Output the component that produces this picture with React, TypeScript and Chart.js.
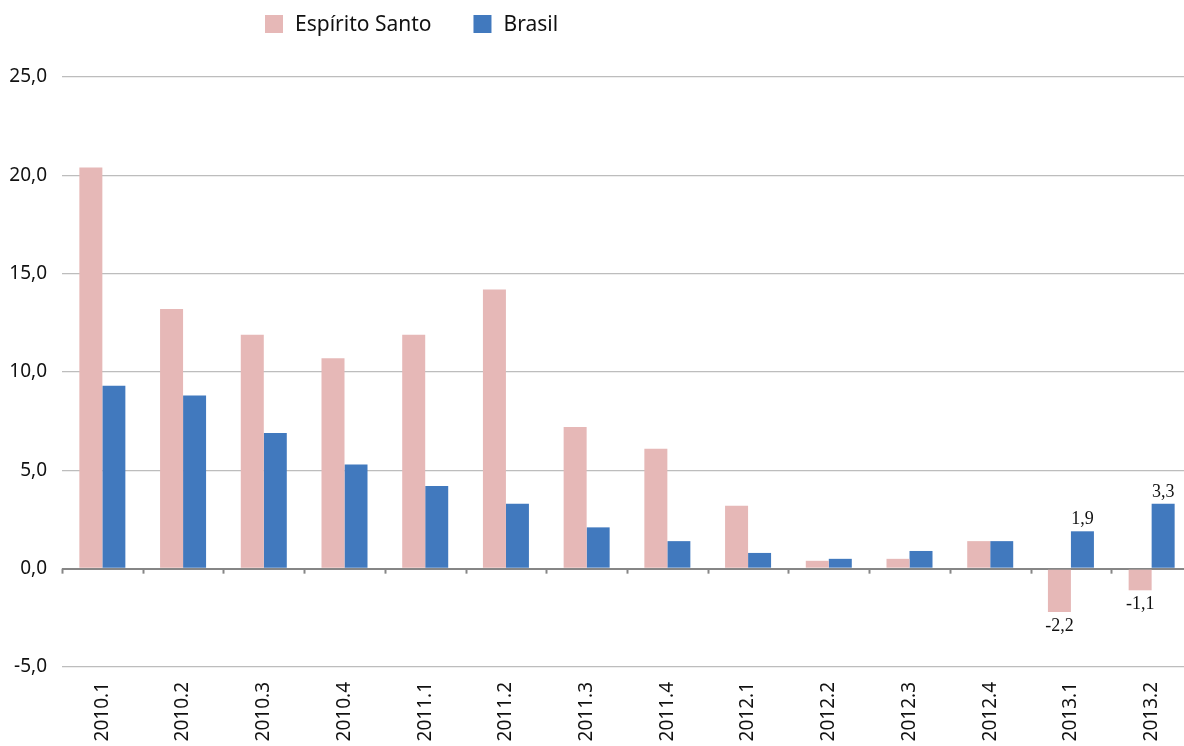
import { useEffect, useRef } from 'react';
import { Chart, registerables } from 'chart.js';

Chart.register(...registerables);

const categories = [
  '2010.1', '2010.2', '2010.3', '2010.4',
  '2011.1', '2011.2', '2011.3', '2011.4',
  '2012.1', '2012.2', '2012.3', '2012.4',
  '2013.1', '2013.2',
];
const seriesLabels = ['Espírito Santo', 'Brasil'];
const espiritoSanto = [20.4, 13.2, 11.9, 10.7, 11.9, 14.2, 7.2, 6.1, 3.2, 0.4, 0.5, 1.4, -2.2, -1.1];
const brasil = [9.3, 8.8, 6.9, 5.3, 4.2, 3.3, 2.1, 1.4, 0.8, 0.5, 0.9, 1.4, 1.9, 3.3];
const yMin = -5;
const yMax = 25;
const yStep = 5;
const labeledIndexes = [12, 13];

const colors = ['#E6B8B7', '#4179BE'];

const fmt = (v: number) => v.toFixed(1).replace('.', ',');

const legendPlugin = {
  id: 'customLegend',
  afterDraw(chart: any) {
    const ctx = chart.ctx;
    ctx.save();
    ctx.font = '21px "Noto Sans"';
    ctx.textBaseline = 'middle';
    ctx.textAlign = 'left';
    let x = 265;
    chart.data.datasets.forEach((ds: any) => {
      ctx.fillStyle = ds.backgroundColor;
      ctx.fillRect(x, 15, 18, 18);
      ctx.fillStyle = '#111111';
      ctx.fillText(ds.label, x + 30, 25);
      x += 30 + ctx.measureText(ds.label).width + 42;
    });
    ctx.restore();
  },
};

const zeroTicksPlugin = {
  id: 'zeroTicks',
  afterDatasetsDraw(chart: any) {
    const ctx = chart.ctx;
    const xs = chart.scales.x;
    const ys = chart.scales.y;
    const y0 = ys.getPixelForValue(0);
    const n = chart.data.labels.length;
    const w = (xs.right - xs.left) / n;
    ctx.save();
    ctx.strokeStyle = '#868686';
    ctx.lineWidth = 2;
    for (let i = 0; i <= n; i++) {
      const x = Math.round(xs.left + i * w) + 0.5;
      ctx.beginPath();
      ctx.moveTo(x, y0);
      ctx.lineTo(x, y0 + 5);
      ctx.stroke();
    }
    ctx.restore();
  },
};

const dataLabelPlugin = {
  id: 'dataLabels',
  afterDatasetsDraw(chart: any) {
    const ctx = chart.ctx;
    ctx.save();
    ctx.font = '18px "Liberation Serif"';
    ctx.fillStyle = '#111111';
    ctx.textAlign = 'center';
    chart.data.datasets.forEach((ds: any, di: number) => {
      const meta = chart.getDatasetMeta(di);
      labeledIndexes.forEach((i) => {
        const el = meta.data[i];
        const v = ds.data[i];
        if (!el) return;
        if (v >= 0) {
          ctx.textBaseline = 'bottom';
          ctx.fillText(fmt(v), el.x, el.y - 3);
        } else {
          ctx.textBaseline = 'top';
          ctx.fillText(fmt(v), el.x, el.y + 5);
        }
      });
    });
    ctx.restore();
  },
};

export default function App() {
  const canvasRef = useRef<HTMLCanvasElement | null>(null);

  useEffect(() => {
    if (!canvasRef.current) return;
    const chart = new Chart(canvasRef.current, {
      type: 'bar',
      data: {
        labels: categories,
        datasets: [
          {
            label: seriesLabels[0],
            data: espiritoSanto,
            backgroundColor: colors[0],
            categoryPercentage: 0.57,
            barPercentage: 1,
          },
          {
            label: seriesLabels[1],
            data: brasil,
            backgroundColor: colors[1],
            categoryPercentage: 0.57,
            barPercentage: 1,
          },
        ],
      },
      options: {
        animation: false,
        responsive: true,
        maintainAspectRatio: false,
        layout: { padding: { top: 77, right: 0, bottom: 0, left: 0 } },
        plugins: {
          legend: { display: false },
          tooltip: { enabled: false },
          title: { display: false },
        },
        scales: {
          x: {
            grid: { display: false, drawTicks: false },
            border: { display: false },
            ticks: {
              autoSkip: false,
              minRotation: 90,
              maxRotation: 90,
              padding: 15,
              color: '#111111',
              font: { family: '"Noto Sans"', size: 19 },
            },
            afterFit(scale: any) {
              scale.height = 79;
            },
          },
          y: {
            min: yMin,
            max: yMax,
            grid: {
              drawTicks: false,
              color: (c: any) => (c.tick && c.tick.value === 0 ? '#868686' : '#BDBDBD'),
              lineWidth: (c: any) => (c.tick && c.tick.value === 0 ? 2 : 1.2),
            },
            border: { display: false },
            ticks: {
              stepSize: yStep,
              padding: 15,
              color: '#111111',
              font: { family: '"Noto Sans"', size: 19 },
              callback: (v: any) => fmt(Number(v)),
            },
            afterFit(scale: any) {
              scale.width = 62;
            },
          },
        },
      },
      plugins: [legendPlugin, zeroTicksPlugin, dataLabelPlugin],
    });
    return () => chart.destroy();
  }, []);

  return (
    <div style={{ position: 'absolute', left: 0, top: 0, width: 1184, height: 746, overflow: 'hidden', background: '#ffffff' }}>
      <div style={{ position: 'absolute', left: 0, top: 0, width: 1192, height: 746 }}>
        <canvas ref={canvasRef} />
      </div>
    </div>
  );
}
